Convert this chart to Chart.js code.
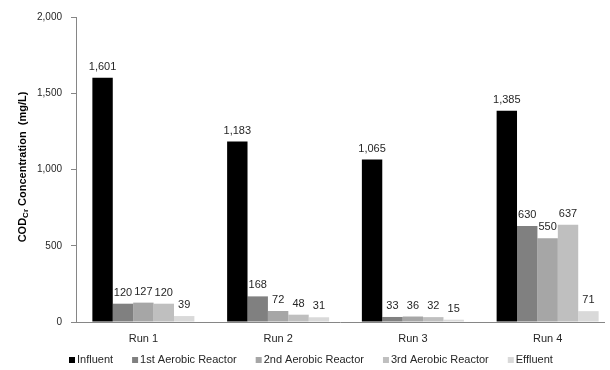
<!DOCTYPE html>
<html>
<head>
<meta charset="utf-8">
<script src="https://cdn.jsdelivr.net/npm/chart.js@4/dist/chart.umd.min.js"></script>
<style>
  html, body { margin: 0; padding: 0; background: #fff; overflow: hidden; }
  #wrap { width: 615px; height: 370px; }
</style>
</head>
<body>
<div id="wrap"><canvas id="c" width="615" height="370"></canvas></div>
<script>
// Runs along the category axis
const runs = ['Run 1', 'Run 2', 'Run 3', 'Run 4'];

// COD_Cr concentration (mg/L) per sampling point
const influent   = [1601, 1183, 1065, 1385];
const aerobic1   = [120, 168, 33, 630];
const aerobic2   = [127, 72, 36, 550];
const aerobic3   = [120, 48, 32, 637];
const effluent   = [39, 31, 15, 71];

const seriesNames = ['Influent', '1st Aerobic Reactor', '2nd Aerobic Reactor', '3rd Aerobic Reactor', 'Effluent'];
const seriesColors = ['#000000', '#808080', '#a6a6a6', '#bfbfbf', '#d9d9d9'];

// Y-axis ticks
const yTicks = [0, 500, 1000, 1500, 2000];

const FONT = '"Liberation Sans", Arial, sans-serif';
const fmt = v => v.toLocaleString('en-US');

// Value labels above each bar
const valueLabels = {
  id: 'valueLabels',
  afterDatasetsDraw(chart) {
    const ctx = chart.ctx;
    ctx.save();
    ctx.font = '11px ' + FONT;
    ctx.fillStyle = '#262626';
    ctx.textAlign = 'center';
    ctx.textBaseline = 'middle';
    chart.data.datasets.forEach((ds, i) => {
      chart.getDatasetMeta(i).data.forEach((bar, j) => {
        ctx.fillText(fmt(ds.data[j]), bar.x, bar.y - 11);
      });
    });
    ctx.restore();
  }
};

// Rotated y-axis title with subscript "Cr", plus bottom axis line
const axisDecor = {
  id: 'axisDecor',
  afterDraw(chart) {
    const ctx = chart.ctx;
    const area = chart.chartArea;
    // category axis line
    ctx.save();
    ctx.strokeStyle = '#868686';
    ctx.lineWidth = 1;
    ctx.beginPath();
    ctx.moveTo(area.left, Math.round(area.bottom) + 0.5);
    ctx.lineTo(605, Math.round(area.bottom) + 0.5);
    ctx.stroke();
    ctx.restore();

    // y-axis title
    const parts = [
      { t: 'COD', f: 'bold 11px ' + FONT, dy: 0 },
      { t: 'Cr', f: 'bold 8px ' + FONT, dy: 3 },
      { t: ' Concentration  (mg/L)', f: 'bold 11px ' + FONT, dy: 0 }
    ];
    ctx.save();
    ctx.translate(23, 167);
    ctx.rotate(-Math.PI / 2);
    ctx.fillStyle = '#000';
    ctx.textBaseline = 'middle';
    ctx.textAlign = 'left';
    let total = 0;
    parts.forEach(p => { ctx.font = p.f; p.w = ctx.measureText(p.t).width; total += p.w; });
    let x = -total / 2;
    parts.forEach(p => { ctx.font = p.f; ctx.fillText(p.t, x, p.dy); x += p.w; });
    ctx.restore();
  }
};

// Legend row along the bottom
const bottomLegend = {
  id: 'bottomLegend',
  afterDraw(chart) {
    const ctx = chart.ctx;
    ctx.save();
    ctx.font = '11px ' + FONT;
    ctx.textBaseline = 'middle';
    ctx.textAlign = 'left';
    const y = 360;
    let x = 69;
    chart.data.datasets.forEach(ds => {
      ctx.fillStyle = ds.backgroundColor;
      ctx.fillRect(x, y - 3, 6, 6);
      ctx.fillStyle = '#262626';
      ctx.fillText(ds.label, x + 8, y);
      x += 8 + ctx.measureText(ds.label).width + 19;
    });
    ctx.restore();
  }
};

const seriesData = [influent, aerobic1, aerobic2, aerobic3, effluent];

new Chart(document.getElementById('c'), {
  type: 'bar',
  data: {
    labels: runs,
    datasets: seriesData.map((d, i) => ({
      label: seriesNames[i],
      data: d,
      backgroundColor: seriesColors[i],
      borderWidth: 0,
      categoryPercentage: 0.757,
      barPercentage: 1.0
    }))
  },
  options: {
    responsive: false,
    animation: false,
    devicePixelRatio: 1,
    layout: { padding: { top: 17, right: 0, bottom: 0, left: 0 } },
    plugins: {
      legend: { display: false },
      tooltip: { enabled: false }
    },
    scales: {
      x: {
        grid: { display: false, drawTicks: false },
        border: { display: false },
        ticks: { font: { family: FONT, size: 11 }, color: '#262626', padding: 10 },
        afterFit(s) { s.height = 48; }
      },
      y: {
        min: 0,
        max: 2000,
        afterBuildTicks(s) { s.ticks = yTicks.map(v => ({ value: v })); },
        grid: { display: true, drawOnChartArea: false, drawTicks: true, tickLength: 5, color: '#868686' },
        border: { display: true, color: '#868686' },
        ticks: {
          font: { family: FONT, size: 10 },
          color: '#262626',
          padding: 9,
          callback: v => fmt(v)
        },
        afterFit(s) { s.width = 76; }
      }
    }
  },
  plugins: [valueLabels, axisDecor, bottomLegend]
});
</script>
</body>
</html>
